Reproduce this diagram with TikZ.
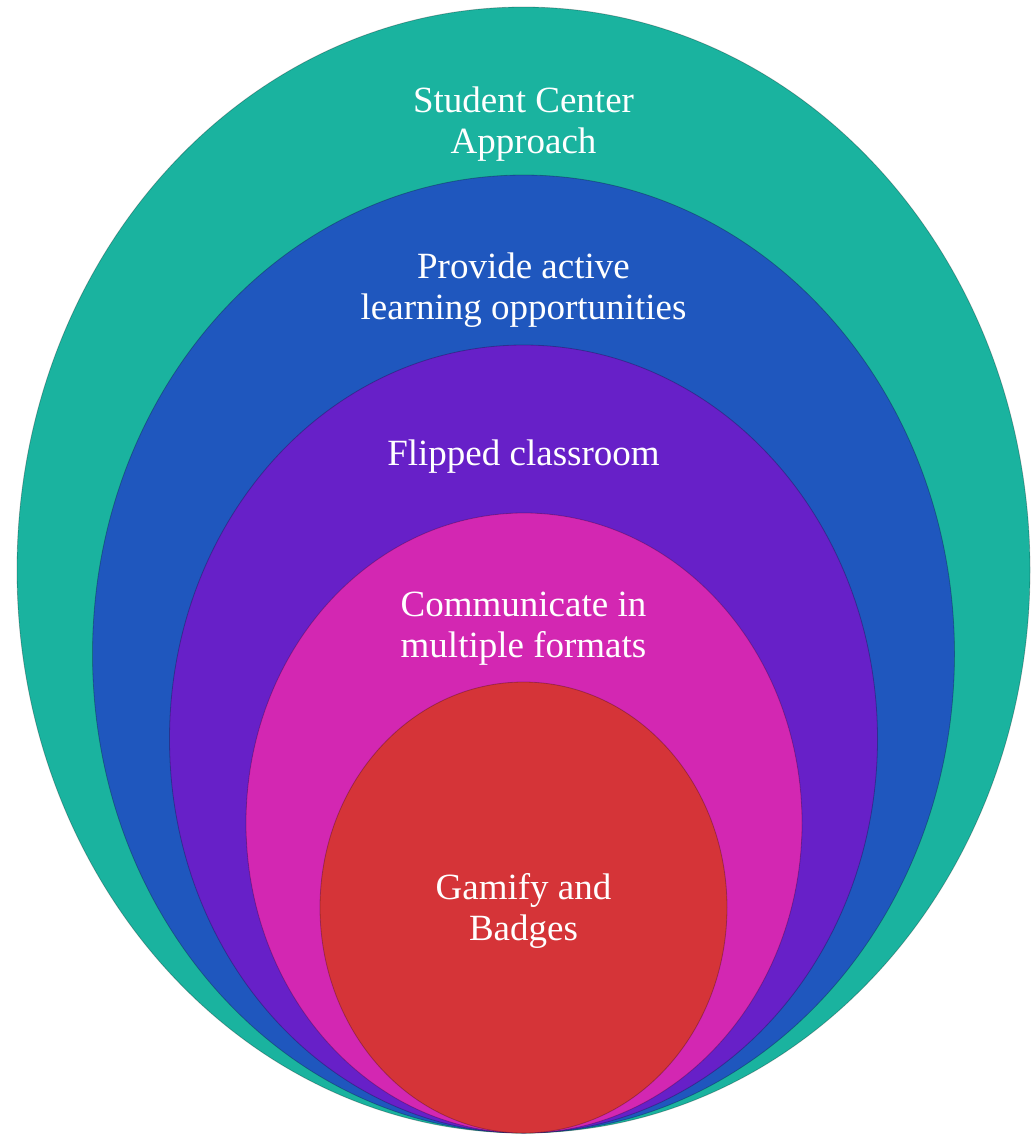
\documentclass[tikz,border=0pt]{standalone}
\usepackage{fontspec}
\setmainfont{Liberation Serif}
\usetikzlibrary{shapes.geometric}
\definecolor{ringteal}{HTML}{1AB39F}
\definecolor{ringblue}{HTML}{1F57BE}
\definecolor{ringpurple}{HTML}{6720C8}
\definecolor{ringpink}{HTML}{D327B2}
\definecolor{ringred}{HTML}{D53438}
\def\ringnode{\node[ellipse,inner sep=0pt,draw=black,draw opacity=0.25,line width=0.8pt]}
\def\ringtext{\node[text=white,align=center,font=\fontsize{37}{41}\selectfont]}

\begin{document}
\begin{tikzpicture}[x=1pt,y=-1pt]
\useasboundingbox (0,0) rectangle (1031,1136);
\ringnode[fill=ringteal,minimum width=1013pt,minimum height=1126pt] (approach) at (523.5,570) {};
\ringnode[fill=ringblue,minimum width=862pt,minimum height=958pt] (active) at (523.5,654) {};
\ringnode[fill=ringpurple,minimum width=708pt,minimum height=788pt] (flipped) at (523.5,739) {};
\ringnode[fill=ringpink,minimum width=556pt,minimum height=620pt] (formats) at (524,823) {};
\ringnode[fill=ringred,minimum width=407pt,minimum height=451pt] (badges) at (523.5,907.5) {};
% labels
\ringtext (approachtext) at (523.5,124) {Student Center\\Approach};
\ringtext (activetext) at (523.5,290) {Provide active\\learning opportunities};
\ringtext (flippedtext) at (523.5,457) {Flipped classroom};
\ringtext (formatstext) at (523.5,629) {Communicate in\\multiple formats};
\ringtext (badgestext) at (523.5,911) {Gamify and\\Badges};
\end{tikzpicture}
\end{document}
